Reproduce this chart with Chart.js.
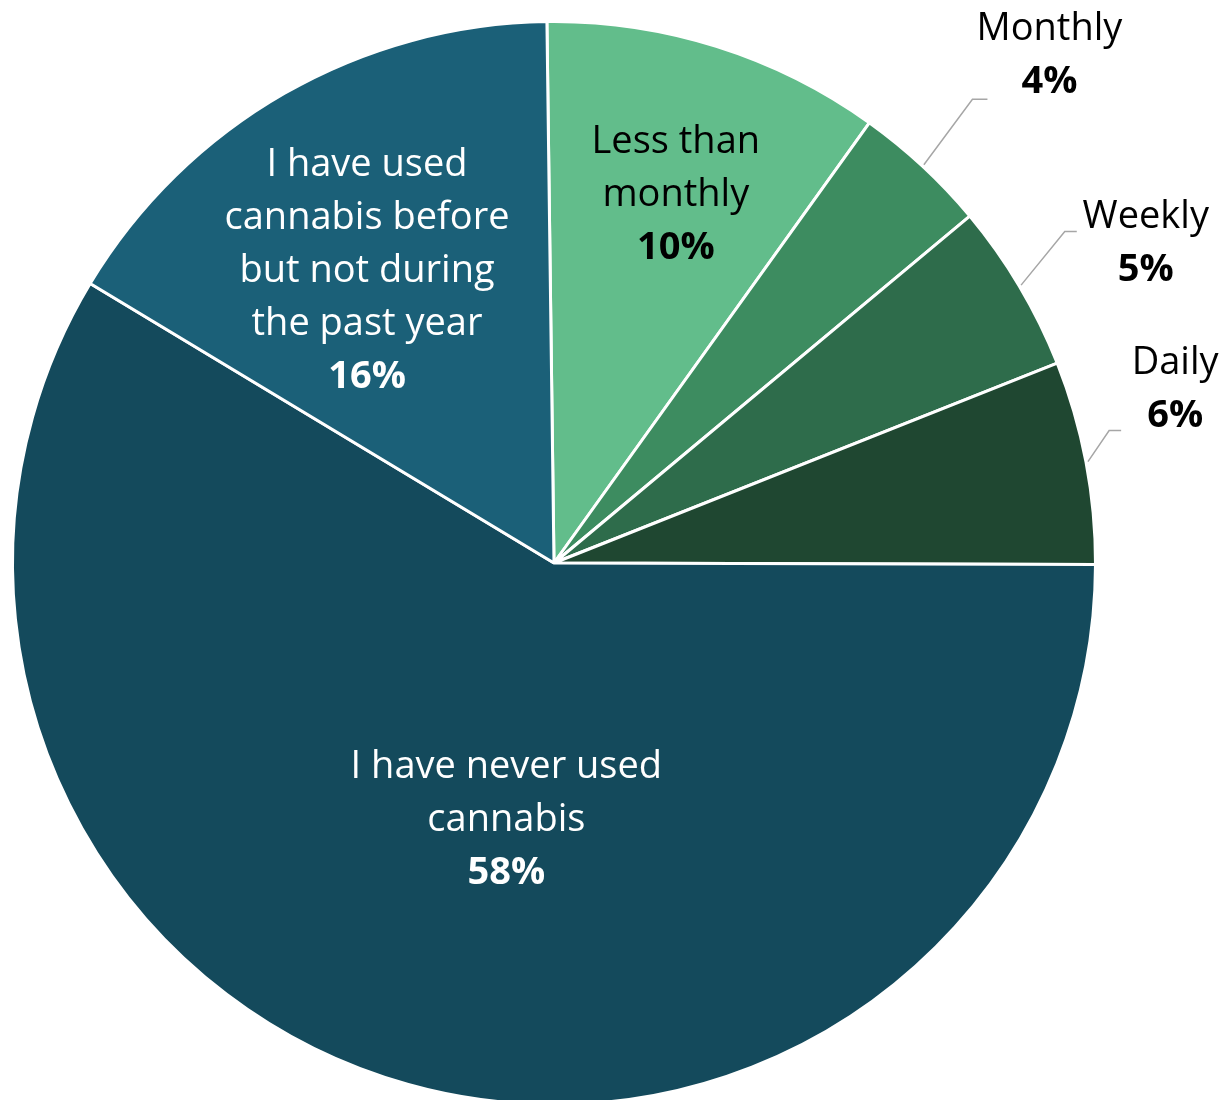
<!DOCTYPE html>
<html>
<head>
<meta charset="utf-8">
<script src="https://cdn.jsdelivr.net/npm/chart.js@4.4.1/dist/chart.umd.min.js"></script>
<style>
  html, body { margin: 0; padding: 0; background: #fff; overflow: hidden; }
  canvas { display: block; }
</style>
</head>
<body>
<canvas id="pie" width="1227" height="1110"></canvas>
<script>
// categories, clockwise from 12 o'clock
const categories = [
  ["Less than", "monthly"],
  ["Monthly"],
  ["Weekly"],
  ["Daily"],
  ["I have never used", "cannabis"],
  ["I have used", "cannabis before", "but not during", "the past year"],
];
const shares = [10, 4, 5, 6, 58, 16];
const colors = ["#62bd8b", "#3d8c60", "#2e6c4b", "#1f4731", "#144a5c", "#1b6078"];
const textColors = ["#000", "#000", "#000", "#000", "#fff", "#fff"];

// where each label block sits: k = fraction of radius along the slice's middle,
// dx/dy = nudge in px. leader = elbow offset from label centre + horizontal run.
const labelLayout = [
  { k: 0.72, dx: 5, dy: 4 },
  { k: 1.32, dx: 9, dy: 16, leader: { ex: -77, ey: 44, len: 15 } },
  { k: 1.248, dx: 11, dy: 26, leader: { ex: -81, ey: -12, len: 12 } },
  { k: 1.192, dx: -13, dy: -53, leader: { ex: -66, ey: 41, len: 12 } },
  { k: 0.478, dx: 22, dy: 8 },
  { k: 0.642, dx: -14, dy: 10 },
];

const FONT = '"Open Sans", "Noto Sans", sans-serif';
const FONT_SIZE = 38;
const LINE_H = 53;

const sliceLabels = {
  id: "sliceLabels",
  afterDatasetsDraw(chart) {
    const ctx = chart.ctx;
    const meta = chart.getDatasetMeta(0);
    ctx.save();
    meta.data.forEach((arc, i) => {
      const { x, y, startAngle, endAngle, outerRadius } =
        arc.getProps(["x", "y", "startAngle", "endAngle", "outerRadius"], true);
      const mid = (startAngle + endAngle) / 2;
      const c = Math.cos(mid), s = Math.sin(mid);
      const lay = labelLayout[i];
      const cx = x + c * outerRadius * lay.k + lay.dx;
      const cy = y + s * outerRadius * lay.k + lay.dy;

      if (lay.leader) {
        const L = lay.leader;
        const ex = cx + L.ex, ey = cy + L.ey;
        ctx.beginPath();
        ctx.moveTo(x + c * (outerRadius + 2), y + s * (outerRadius + 2));
        ctx.lineTo(ex, ey);
        ctx.lineTo(ex + L.len, ey);
        ctx.strokeStyle = "#a6a6a6";
        ctx.lineWidth = 1.5;
        ctx.stroke();
      }

      const lines = categories[i];
      const n = lines.length + 1;
      let ty = cy - (n - 1) * LINE_H / 2;
      ctx.fillStyle = textColors[i];
      ctx.textAlign = "center";
      ctx.textBaseline = "middle";
      ctx.font = `${FONT_SIZE}px ${FONT}`;
      lines.forEach((ln) => {
        ctx.fillText(ln, cx, ty);
        ty += LINE_H;
      });
      ctx.font = `bold ${FONT_SIZE}px ${FONT}`;
      ctx.fillText(shares[i] + "%", cx, ty);
    });
    ctx.restore();
  },
};

new Chart(document.getElementById("pie").getContext("2d"), {
  type: "pie",
  data: {
    labels: categories,
    datasets: [{
      data: shares,
      backgroundColor: colors,
      borderColor: "#fff",
      borderWidth: 3,
      hoverOffset: 0,
    }],
  },
  options: {
    responsive: false,
    animation: false,
    rotation: -0.75,
    layout: { padding: { left: 11, right: 130, top: 20, bottom: 4 } },
    plugins: { legend: { display: false }, tooltip: { enabled: false } },
  },
  plugins: [sliceLabels],
});
</script>
</body>
</html>
